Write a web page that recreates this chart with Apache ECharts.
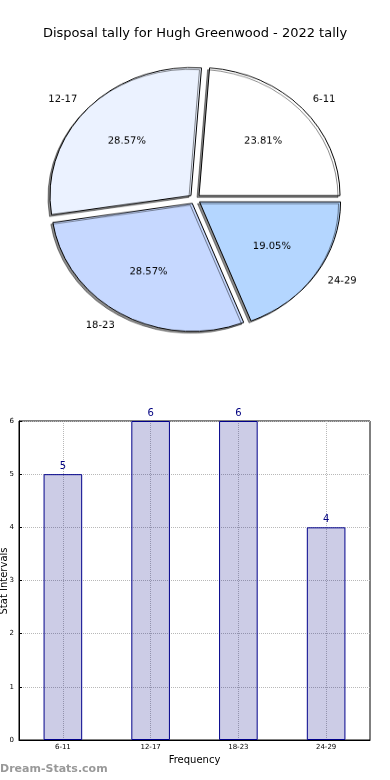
<!DOCTYPE html>
<html>
<head>
<meta charset="utf-8">
<script src="https://cdn.jsdelivr.net/npm/echarts@6/dist/echarts.min.js"></script>
<style>
  html, body { margin:0; padding:0; background:#fff; }
  #main { position:absolute; left:0; top:0; width:390px; height:780px; }
  #pie { position:absolute; left:0; top:0; width:390px; height:400px; transform-origin:195px 199px; transform:scaleY(0.908); }
</style>
</head>
<body>
<div id="main"></div>
<div id="pie"></div>
<script>
const titleText = 'Disposal tally for Hugh Greenwood - 2022 tally';
const categories = ['6-11', '12-17', '18-23', '24-29'];
const counts = [5, 6, 6, 4];
const pieColors = ['#FFFFFF', '#EBF2FF', '#C6D8FF', '#B4D6FF'];
const yTicks = [0, 1, 2, 3, 4, 5, 6];
const xName = 'Frequency';
const yName = 'Stat Intervals';
const watermark = 'Dream-Stats.com';

const FONT = 'DejaVu Sans';

const main = echarts.init(document.getElementById('main'), null, {renderer:'canvas'});
main.setOption({
  animation: false,
  textStyle: { fontFamily: FONT },
  title: {
    text: titleText, left: 'center', top: 22,
    textStyle: { fontFamily: FONT, fontSize: 13, fontWeight: 'normal', color: '#000' }
  },
  graphic: [{
    type: 'text', left: 0, top: 764,
    style: { text: watermark, fontFamily: FONT, fontSize: 11, fontWeight: 'bold', fill: '#999' }
  }, {
    type: 'text', x: 4, y: 581, rotation: Math.PI / 2,
    style: { text: yName, fontFamily: FONT, fontSize: 10, fill: '#000', textAlign: 'center', textVerticalAlign: 'middle' }
  }],
  grid: { left: 19, right: 20, top: 421, bottom: 40, show: true, borderColor: '#000', borderWidth: 1,
    containLabel: false, outerBoundsMode: 'none' },
  xAxis: {
    type: 'category', data: categories,
    axisLine: { lineStyle: { color: '#000', width: 1 } },
    axisTick: { alignWithLabel: true, inside: true, length: 3, lineStyle: { color: '#000' } },
    axisLabel: { fontSize: 7, color: '#000', margin: 4, fontFamily: FONT },
    splitLine: { show: true, alignWithLabel: true, lineStyle: { type: 'dotted', color: '#b8b8b8', width: 1 } },
    name: xName, nameLocation: 'middle', nameGap: 15,
    nameTextStyle: { fontSize: 10, color: '#000', fontFamily: FONT }
  },
  yAxis: {
    type: 'value', min: 0, max: 6, interval: 1,
    axisLine: { show: true, lineStyle: { color: '#000', width: 1 } },
    axisTick: { show: true, inside: true, length: 3, lineStyle: { color: '#000' } },
    axisLabel: { fontSize: 7, color: '#000', margin: 5, fontFamily: FONT,
      formatter: v => yTicks.includes(v) ? String(v) : '' },
    splitLine: { show: true, lineStyle: { type: 'dotted', color: '#b8b8b8', width: 1 } }
  },
  series: [{
    type: 'bar', data: counts, barWidth: '44%', silent: true,
    itemStyle: { color: 'rgba(0,0,128,0.2)', borderColor: '#00008B', borderWidth: 1 },
    label: { show: true, position: 'top', distance: 3, fontSize: 10, color: '#000080', fontFamily: FONT }
  }]
});

const pie = echarts.init(document.getElementById('pie'), null, {renderer:'canvas'});
const pieData = categories.map((c, i) => ({
  name: c, value: counts[i], selected: true,
  itemStyle: { color: pieColors[i] }
}));
const labelData = categories.map((c, i) => ({ name: c, value: counts[i], selected: true }));
pie.setOption({
  animation: false,
  textStyle: { fontFamily: FONT },
  series: [{
    type: 'pie', center: [195, 199], radius: [0, 141],
    startAngle: 0, clockwise: false, silent: true,
    selectedMode: 'multiple', selectedOffset: 5.5,
    avoidLabelOverlap: false,
    itemStyle: { borderColor: '#000', borderWidth: 1, shadowColor: 'rgba(0,0,0,0.45)', shadowBlur: 0, shadowOffsetX: -2, shadowOffsetY: 2 },
    select: { itemStyle: { borderColor: '#000', borderWidth: 1 } },
    emphasis: { disabled: true },
    label: { show: true, position: 'outside', fontSize: 10, color: '#000', fontFamily: FONT, distanceToLabelLine: 0 },
    labelLine: { show: false, length: 14, length2: 0 },
    data: pieData
  }, {
    type: 'pie', center: [195, 199], radius: [28, 141],
    startAngle: 0, clockwise: false, silent: true,
    selectedMode: 'multiple', selectedOffset: 5.5,
    avoidLabelOverlap: false,
    itemStyle: { color: 'rgba(0,0,0,0)', borderWidth: 0 },
    select: { itemStyle: { color: 'rgba(0,0,0,0)', borderWidth: 0 } },
    emphasis: { disabled: true },
    label: { show: true, position: 'inside', formatter: '{d}%', fontSize: 10, color: '#000', fontFamily: FONT },
    labelLine: { show: false },
    data: labelData
  }]
});
</script>
</body>
</html>
